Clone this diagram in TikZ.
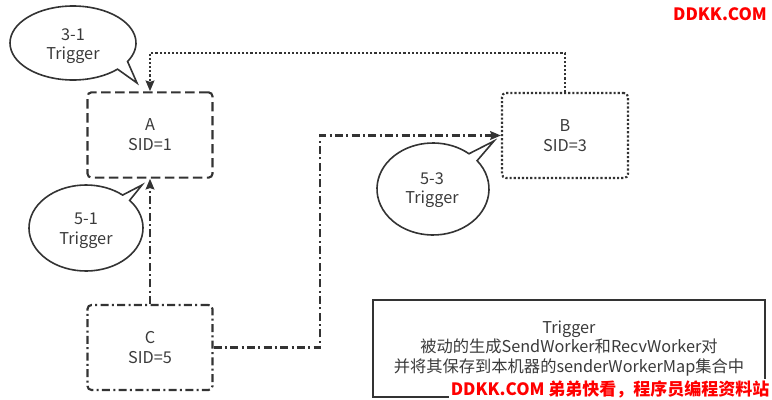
\documentclass[tikz,border=0pt]{standalone}
\usepackage{fontspec}
\setmainfont{Noto Sans CJK SC}
\usetikzlibrary{arrows.meta}
\definecolor{ln}{HTML}{333333}
\definecolor{tx}{HTML}{3A3A3A}
\definecolor{wm}{HTML}{FF0000}
\begin{document}
\begin{tikzpicture}[x=0.75pt,y=-0.75pt,
  every node/.style={font=\fontsize{12.2pt}{14.8pt}\selectfont, text=tx, align=center},
  boxbase/.style={draw=ln, line width=1.6pt, rounded corners=3pt, minimum width=93.75pt, minimum height=64pt},
  dashbox/.style={boxbase, dash pattern=on 7pt off 3.5pt},
  dotbox/.style={boxbase, dash pattern=on 1.6pt off 1.5pt},
  dashdotbox/.style={boxbase, dash pattern=on 6pt off 2.5pt on 1.5pt off 2.5pt},
  conn/.style={draw=ln, line width=1.6pt, -{Stealth[length=8pt,width=6.5pt,inset=1pt]}},
  bubble/.style={draw=ln, line width=1.2pt, line join=miter},
  wmark/.style={font=\fontsize{12.75pt}{14pt}\selectfont\bfseries, text=wm, inner sep=1pt}]
\useasboundingbox (0,0) rectangle (772,400);

% boxes
\node[dashbox] (A) at (150,135) {A\\SID=1};
\node[dotbox, minimum width=94.5pt, minimum height=63.75pt] (B) at (565,135.5) {B\\SID=3};
\node[dashdotbox, minimum height=63.75pt] (C) at (150,347.5) {C\\SID=5};
\node[draw=ln, line width=1.6pt, minimum width=294pt, minimum height=72.75pt] (N) at (569,348.5)
  {Trigger\\被动的生成SendWorker和RecvWorker对\\并将其保存到本机器的senderWorkerMap集合中};

% connectors
\coordinate (t) at (0,53);
\coordinate (m) at (320,0);
\draw[conn, dash pattern=on 1.6pt off 1.5pt] (B.north) -- (B.north |- t) -| (A.north);
\draw[conn, dash pattern=on 6pt off 2.5pt on 1.5pt off 2.5pt] (C.north) -- (A.south);
\draw[conn, dash pattern=on 6pt off 2.5pt on 1.5pt off 2.5pt] (C.east) -- (C.east -| m) |- (B.west);

% callouts
\draw[bubble] ([shift={(45:63 and 37)}]73,43) arc[start angle=45, end angle=390, x radius=63, y radius=37] -- (137,83) -- cycle;
\node (b1) at (73,46) {3-1\\Trigger};
\draw[bubble] ([shift={(-40:57 and 43)}]86,228) arc[start angle=-40, end angle=310, x radius=57, y radius=43] -- (142,185) -- cycle;
\node (b2) at (86,231) {5-1\\Trigger};
\draw[bubble] ([shift={(-38:56 and 46)}]433,189) arc[start angle=-38, end angle=310, x radius=56, y radius=46] -- (494,141) -- cycle;
\node (b3) at (432,190) {5-3\\Trigger};

% watermarks
\node[wmark] (w1) at (720,14) {DDKK.COM};
\node[wmark, fill=white, anchor=east] (w2) at (771,389) {DDKK.COM 弟弟快看，程序员编程资料站};
\end{tikzpicture}
\end{document}
